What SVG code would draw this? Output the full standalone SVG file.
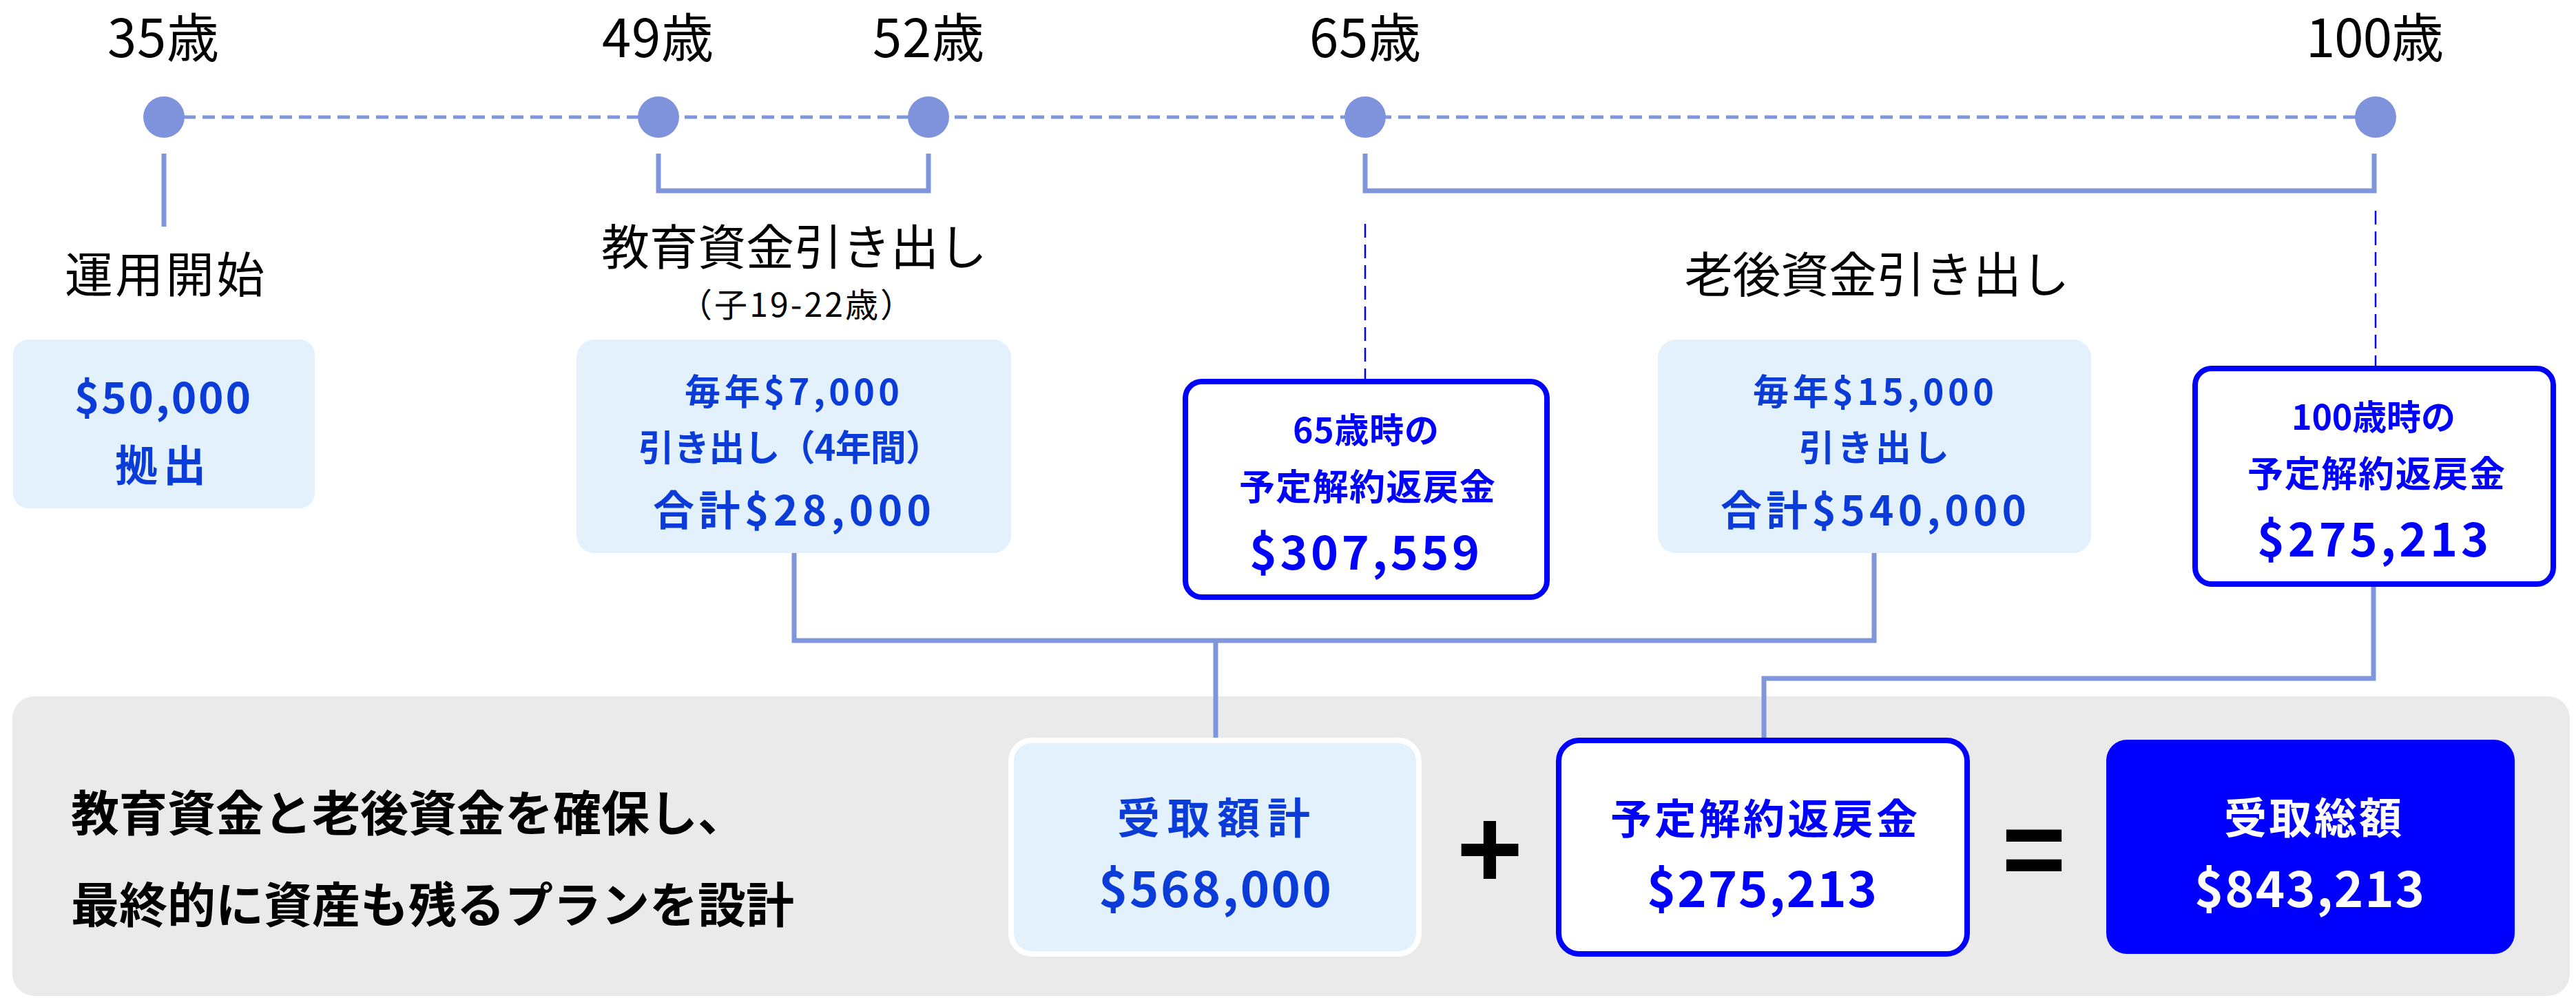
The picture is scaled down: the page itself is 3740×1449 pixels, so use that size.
<svg xmlns="http://www.w3.org/2000/svg" width="3740" height="1449" viewBox="0 0 3740 1449">
<style>
text{font-family:"Noto Sans CJK JP","Noto Sans",sans-serif;}
.age{font-size:76px;fill:#000;text-anchor:middle;}
.head{font-size:70px;fill:#000;text-anchor:middle;}
.sub{font-size:48px;fill:#000;text-anchor:middle;}
.lb{fill:#0b3cd8;font-weight:bold;text-anchor:middle;}
.bb{fill:#0000ff;font-weight:bold;text-anchor:middle;}
.wb{fill:#ffffff;font-weight:bold;text-anchor:middle;}
.light{fill:#e3f1fd;}
.outl{fill:#ffffff;stroke:#0000ff;stroke-width:8;}
.conn{fill:none;stroke:#7f95dc;stroke-width:7;}
.dot{fill:#7f93dc;}
.vdash{stroke:#0000ff;stroke-width:2.5;stroke-dasharray:20 10;fill:none;}
.panel{font-size:70px;font-weight:bold;fill:#000;}
.op{font-family:"Liberation Sans",Arial,sans-serif;font-weight:bold;fill:#000;text-anchor:middle;}
</style>

<!-- background panel -->
<rect id="summary-panel" x="18" y="1011" width="3713" height="435" rx="32" fill="#eaeaea"/>

<!-- connectors -->
<g id="connectors">
  <line x1="238" y1="170" x2="3449" y2="170" stroke="#7f95dc" stroke-width="5" stroke-dasharray="18 10"/>
  <path class="conn" d="M238,223 V329"/>
  <path class="conn" d="M956,223 V277 H1348 V223"/>
  <path class="conn" d="M1982,223 V277 H3447 V223"/>
  <path class="vdash" d="M1982,325 V550"/>
  <path class="vdash" d="M3449,306 V531"/>
  <path class="conn" d="M1153,803 V930 H2721 V803"/>
  <path class="conn" d="M1765,930 V1071"/>
  <path class="conn" d="M3446,852 V985 H2561 V1071"/>
</g>

<!-- timeline nodes -->
<g id="age-35">
  <circle class="dot" cx="238" cy="170" r="30"/>
  <text class="age" x="237" y="83" textLength="162">35歳</text>
</g>
<g id="age-49">
  <circle class="dot" cx="956" cy="170" r="30"/>
  <text class="age" x="955" y="83" textLength="162">49歳</text>
</g>
<g id="age-52">
  <circle class="dot" cx="1348" cy="170" r="30"/>
  <text class="age" x="1348" y="83" textLength="162">52歳</text>
</g>
<g id="age-65">
  <circle class="dot" cx="1982" cy="170" r="30"/>
  <text class="age" x="1982" y="83" textLength="162">65歳</text>
</g>
<g id="age-100">
  <circle class="dot" cx="3449" cy="170" r="30"/>
  <text class="age" x="3448" y="83" textLength="200">100歳</text>
</g>

<!-- headings -->
<g id="label-start">
  <text class="head" x="239" y="425" textLength="290">運用開始</text>
</g>
<g id="label-edu">
  <text class="head" x="1153" y="385" textLength="560">教育資金引き出し</text>
  <text class="sub" x="1156" y="460" textLength="340">（子19-22歳）</text>
</g>
<g id="label-retire">
  <text class="head" x="2725" y="425" textLength="559">老後資金引き出し</text>
</g>

<!-- boxes -->
<g id="box-contribution">
  <rect class="light" x="19" y="493" width="438" height="245" rx="22"/>
  <text class="lb" x="236" y="600" font-size="62" textLength="256">$50,000</text>
  <text class="lb" x="233" y="699" font-size="62" textLength="132">拠出</text>
</g>
<g id="box-edu">
  <rect class="light" x="837" y="493" width="631" height="310" rx="26"/>
  <text class="lb" x="1150" y="588" font-size="52" textLength="312">毎年$7,000</text>
  <text class="lb" x="1147" y="669" font-size="52" textLength="440">引き出し（4年間）</text>
  <text class="lb" x="1150" y="763" font-size="60" textLength="404">合計$28,000</text>
</g>
<g id="box-surrender-65">
  <rect class="outl" x="1721" y="554" width="525" height="313" rx="24"/>
  <text class="bb" x="1983" y="643" font-size="50" textLength="212">65歳時の</text>
  <text class="bb" x="1985" y="726" font-size="52" textLength="372">予定解約返戻金</text>
  <text class="bb" x="1981" y="827" font-size="68" textLength="334">$307,559</text>
</g>
<g id="box-retire">
  <rect class="light" x="2407" y="493" width="629" height="310" rx="26"/>
  <text class="lb" x="2720" y="588" font-size="52" textLength="350">毎年$15,000</text>
  <text class="lb" x="2721" y="669" font-size="52" textLength="218">引き出し</text>
  <text class="lb" x="2720" y="763" font-size="60" textLength="444">合計$540,000</text>
</g>
<g id="box-surrender-100">
  <rect class="outl" x="3187" y="535" width="520" height="313" rx="24"/>
  <text class="bb" x="3446" y="624" font-size="50" textLength="238">100歳時の</text>
  <text class="bb" x="3450" y="707" font-size="52" textLength="374">予定解約返戻金</text>
  <text class="bb" x="3445" y="808" font-size="68" textLength="336">$275,213</text>
</g>

<!-- summary -->
<g id="summary-text">
  <text class="panel" x="103" y="1207">教育資金と老後資金を確保し、</text>
  <text class="panel" x="103" y="1340">最終的に資産も残るプランを設計</text>
</g>
<g id="box-received">
  <rect class="light" x="1468" y="1075" width="592" height="310" rx="30" stroke="#ffffff" stroke-width="8"/>
  <text class="lb" x="1762" y="1211" font-size="62" textLength="280">受取額計</text>
  <text class="lb" x="1764" y="1317" font-size="72" textLength="338">$568,000</text>
</g>
<g id="op-plus">
  <text class="op" x="2163" y="1289" font-size="165">+</text>
</g>
<g id="box-surrender">
  <rect class="outl" x="2263" y="1075" width="593" height="310" rx="30"/>
  <text class="bb" x="2561" y="1211" font-size="60" textLength="446">予定解約返戻金</text>
  <text class="bb" x="2558" y="1317" font-size="72" textLength="334">$275,213</text>
</g>
<g id="op-equals">
  <text class="op" x="2953" y="1288" font-size="160">=</text>
</g>
<g id="box-total">
  <rect x="3058" y="1074" width="593" height="311" rx="30" fill="#0000ff"/>
  <text class="wb" x="3358" y="1211" font-size="62" textLength="258">受取総額</text>
  <text class="wb" x="3353" y="1317" font-size="72" textLength="334">$843,213</text>
</g>
</svg>
